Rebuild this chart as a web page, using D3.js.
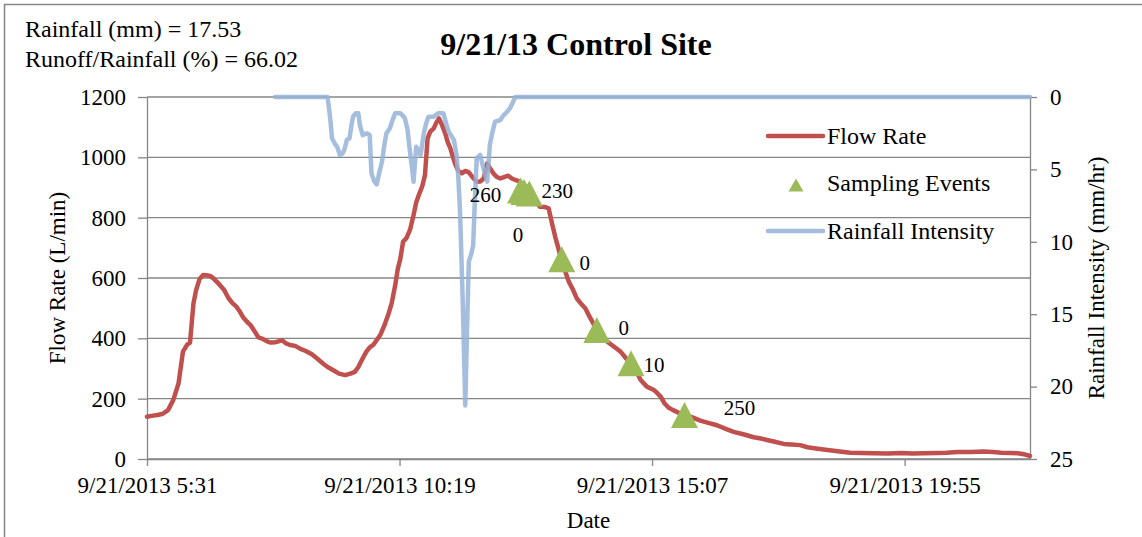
<!DOCTYPE html>
<html>
<head>
<meta charset="utf-8">
<script src="https://cdn.jsdelivr.net/npm/d3@7"></script>
<style>
  body { margin: 0; background: #fff; }
  svg text { font-family: "Liberation Serif", "Times New Roman", serif; fill: #000; }
</style>
</head>
<body>
<svg id="chart" width="1142" height="537"></svg>
<script>
// all times are minutes after 9/21/2013 5:31
const flowMinutes = [0, 5, 12, 18, 24, 30, 36, 41, 46, 49, 53, 56, 60, 64, 68, 72, 76, 83, 88, 93,
  98, 102, 106, 110, 114, 118, 123, 127, 132, 137, 141, 146, 150, 154, 158, 163, 169, 175, 181, 188,
  194, 201, 206, 212, 219, 226, 232, 237, 241, 245, 250, 254, 258, 266, 271, 275, 279, 283, 286, 289,
  292, 296, 300, 304, 307, 310, 314, 317, 320, 323, 327, 330, 333, 336, 340, 343, 346, 349, 352, 355,
  359, 363, 367, 371, 376, 380, 384, 388, 391, 395, 399, 403, 408, 412, 416, 420, 424, 432, 440, 448,
  454, 458, 462, 466, 469, 472, 476, 481, 486, 490, 495, 500, 505, 510, 515, 520, 525, 530, 535, 540,
  546, 553, 558, 563, 570, 578, 582, 586, 590, 595, 600, 608, 615, 622, 631, 640, 650, 660, 669, 680,
  692, 700, 707, 716, 726, 735, 745, 753, 765, 776, 790, 802, 815, 829, 845, 860, 873, 886, 900, 912,
  924, 940, 954, 965, 974, 985, 993, 1000, 1007];
const flowRate = [140, 143, 146, 150, 162, 196, 251, 356, 380, 385, 516, 560, 597, 610, 609, 607, 598, 577, 560, 533,
  515, 505, 488, 468, 455, 444, 422, 403, 398, 390, 386, 387, 390, 394, 384, 378, 375, 365, 358, 347,
  333, 316, 305, 295, 283, 278, 283, 289, 305, 328, 355, 370, 378, 411, 445, 477, 516, 575, 630, 665,
  720, 733, 760, 809, 850, 875, 905, 941, 1063, 1085, 1096, 1115, 1129, 1110, 1080, 1050, 1030, 1000, 974, 955,
  947, 955, 950, 935, 919, 920, 930, 980, 965, 947, 935, 930, 935, 939, 930, 925, 921, 905, 870, 836,
  835, 831, 780, 731, 700, 666, 630, 588, 560, 533, 515, 499, 470, 444, 425, 405, 389, 378, 367, 356,
  335, 312, 290, 262, 240, 229, 218, 206, 185, 170, 162, 151, 145, 138, 127, 120, 112, 100, 90, 82,
  72, 68, 63, 57, 50, 48, 46, 39, 34, 30, 25, 21, 20, 19, 18, 20, 18, 19, 20, 21,
  23, 23, 25, 23, 21, 20, 19, 16, 10];

const rainMinutes = [146, 206, 209, 211, 214, 217, 220, 223, 225, 228, 231, 233, 235, 238, 241, 243, 246, 249, 251, 254,
  256, 259, 262, 265, 268, 271, 273, 277, 280, 283, 289, 292, 294, 297, 299, 302, 304, 307, 310, 312,
  314, 316, 318, 321, 327, 332, 338, 341, 344, 350, 353, 355, 357, 360, 363, 365, 367, 370, 372, 374,
  376, 380, 384, 388, 391, 394, 397, 403, 406, 409, 414, 417, 420, 1007];
const rainIntensity = [0, 0, 1.5, 2.85, 3.2, 3.45, 4.0, 3.9, 3.66, 2.96, 2.85, 2.0, 1.36, 1.13, 1.13, 2.0, 2.63, 2.55, 2.51, 2.63,
  5.27, 5.8, 6.03, 5.2, 4.47, 3.2, 2.51, 2.16, 1.6, 1.13, 1.13, 1.3, 1.47, 2.2, 3.31, 4.8, 5.85, 3.43, 3.8, 4.0,
  3.2, 2.4, 1.9, 1.36, 1.36, 1.13, 1.13, 1.8, 2.4, 2.96, 4.0, 5.5, 7.9, 14, 21.3, 16, 11.37, 10.8, 10.2, 7,
  4.24, 4.0, 5.0, 5.85, 3.31, 2.4, 1.7, 1.59, 1.3, 1.13, 0.78, 0.4, 0, 0];

const sampleMinutes = [426, 430, 436, 473, 513, 552, 613];
const sampleFlow = [890, 885, 880, 662, 428, 317, 146];
const sampleLabels = ["260", "0", "230", "0", "0", "10", "250"];

const flowTicks = [0, 200, 400, 600, 800, 1000, 1200];
const rainTicks = [0, 5, 10, 15, 20, 25];
const dateTicks = ["5:31", "10:19", "15:07", "19:55"];
const endMinute = 1007;

const legendNames = ["Flow Rate", "Sampling Events", "Rainfall Intensity"];
const infoLines = ["Rainfall (mm) = 17.53", "Runoff/Rainfall (%) = 66.02"];

// label offsets from marker centre (layout only)
const labelOffsets = [[-35, 4], [-6, 43], [28, -3], [23, 3], [27, -2], [23, 1], [55, -7]];

const plotLeft = 147, plotRight = 1030, plotTop = 97, plotBottom = 459;
const red = "#c0504d", blue = "#95b3d7", green = "#9bbb59", grey = "#868686";

const start = new Date(2013, 8, 21, 5, 31);
const toDate = m => new Date(start.getTime() + m * 60000);
const parseClock = s => { const [h, m] = s.split(":").map(Number); return new Date(2013, 8, 21, h, m); };

const svg = d3.select("#chart");

const x = d3.scaleTime().domain([start, toDate(endMinute)]).range([plotLeft, plotRight]);
const yFlow = d3.scaleLinear().domain([0, 1200]).range([plotBottom, plotTop]);
const yRain = d3.scaleLinear().domain([0, 25]).range([plotTop, plotBottom]);

// outer border
svg.append("rect")
  .attr("x", 4.5).attr("y", 4.5).attr("width", 1300).attr("height", 700)
  .attr("fill", "none").attr("stroke", grey).attr("stroke-width", 1.5);

// gridlines
svg.append("g").selectAll("line")
  .data(flowTicks)
  .join("line")
  .attr("x1", plotLeft).attr("x2", plotRight)
  .attr("y1", d => yFlow(d)).attr("y2", d => yFlow(d))
  .attr("stroke", grey).attr("stroke-width", 1.3);

function styleAxis(g, size) {
  g.selectAll("path, line").attr("stroke", grey).attr("stroke-width", 1.3);
  g.selectAll("text").style("font-size", size + "px").style("font-family", "Liberation Serif, serif").attr("fill", "#000");
}

svg.append("g")
  .attr("transform", `translate(${plotLeft},0)`)
  .call(d3.axisLeft(yFlow).tickValues(flowTicks).tickFormat(d3.format("d"))
    .tickSize(9).tickSizeOuter(0).tickPadding(12))
  .call(g => styleAxis(g, 23));

svg.append("g")
  .attr("transform", `translate(${plotRight},0)`)
  .call(d3.axisRight(yRain).tickValues(rainTicks).tickFormat(d3.format("d"))
    .tickSize(7).tickSizeOuter(0).tickPadding(13))
  .call(g => styleAxis(g, 23));

svg.append("g")
  .attr("transform", `translate(0,${plotBottom})`)
  .call(d3.axisBottom(x).tickValues(dateTicks.map(parseClock)).tickSize(7).tickSizeOuter(0).tickPadding(11)
    .tickFormat(d3.timeFormat("%-m/%-d/%Y %-H:%M")))
  .call(g => styleAxis(g, 23));

// flow line
const flowLine = d3.line()
  .x((d, i) => x(toDate(flowMinutes[i])))
  .y(d => yFlow(d));
svg.append("path")
  .datum(flowRate)
  .attr("d", flowLine)
  .attr("fill", "none").attr("stroke", red).attr("stroke-width", 4.5)
  .attr("stroke-linejoin", "round").attr("stroke-linecap", "round");

// rainfall line (secondary axis)
const rainLine = d3.line()
  .x((d, i) => x(toDate(rainMinutes[i])))
  .y(d => yRain(d));
svg.append("path")
  .datum(rainIntensity)
  .attr("d", rainLine)
  .attr("fill", "none").attr("stroke", blue).attr("stroke-opacity", 0.85).attr("stroke-width", 4.5)
  .attr("stroke-linejoin", "round").attr("stroke-linecap", "round");

// sampling events
const tri = (w, h) => `M0,${-h / 2}L${w / 2},${h / 2}L${-w / 2},${h / 2}Z`;
const samples = sampleMinutes.map((m, i) => ({ x: x(toDate(m)), y: yFlow(sampleFlow[i]), label: sampleLabels[i], off: labelOffsets[i] }));

svg.append("g").selectAll("path")
  .data(samples)
  .join("path")
  .attr("d", tri(27, 26))
  .attr("transform", d => `translate(${d.x},${d.y})`)
  .attr("fill", green);

svg.append("g").selectAll("text")
  .data(samples)
  .join("text")
  .attr("x", d => d.x + d.off[0])
  .attr("y", d => d.y + d.off[1])
  .attr("dy", "0.35em")
  .attr("text-anchor", "middle")
  .style("font-size", "21px")
  .text(d => d.label);

// legend
const legend = svg.append("g").attr("transform", "translate(768,136)");
const rowGap = 47.5;
legend.append("line").attr("x1", 0).attr("x2", 55).attr("y1", 0).attr("y2", 0)
  .attr("stroke", red).attr("stroke-width", 4.5).attr("stroke-linecap", "round");
legend.append("path").attr("d", tri(15, 13)).attr("transform", `translate(28,${rowGap + 1.5})`).attr("fill", green);
legend.append("line").attr("x1", 0).attr("x2", 55).attr("y1", rowGap * 2).attr("y2", rowGap * 2)
  .attr("stroke", blue).attr("stroke-opacity", 0.85).attr("stroke-width", 4.5).attr("stroke-linecap", "round");
legend.selectAll("text")
  .data(legendNames)
  .join("text")
  .attr("x", 59)
  .attr("y", (d, i) => i * rowGap)
  .attr("dy", "0.32em")
  .style("font-size", "24px")
  .text(d => d);

// titles and labels
svg.append("text")
  .attr("x", 576).attr("y", 55)
  .attr("text-anchor", "middle")
  .style("font-size", "32px").style("font-weight", "bold")
  .text("9/21/13 Control Site");

svg.selectAll(".info")
  .data(infoLines)
  .join("text")
  .attr("class", "info")
  .attr("x", 25).attr("y", (d, i) => 37 + i * 29.5)
  .style("font-size", "24px")
  .text(d => d);

svg.append("text")
  .attr("transform", `translate(65,${(plotTop + plotBottom) / 2}) rotate(-90)`)
  .attr("text-anchor", "middle")
  .style("font-size", "23px")
  .text("Flow Rate (L/min)");

svg.append("text")
  .attr("transform", `translate(1104,${(plotTop + plotBottom) / 2}) rotate(-90)`)
  .attr("text-anchor", "middle")
  .style("font-size", "23px")
  .text("Rainfall Intensity (mm/hr)");

svg.append("text")
  .attr("x", (plotLeft + plotRight) / 2).attr("y", 528)
  .attr("text-anchor", "middle")
  .style("font-size", "23px")
  .text("Date");
</script>
</body>
</html>
